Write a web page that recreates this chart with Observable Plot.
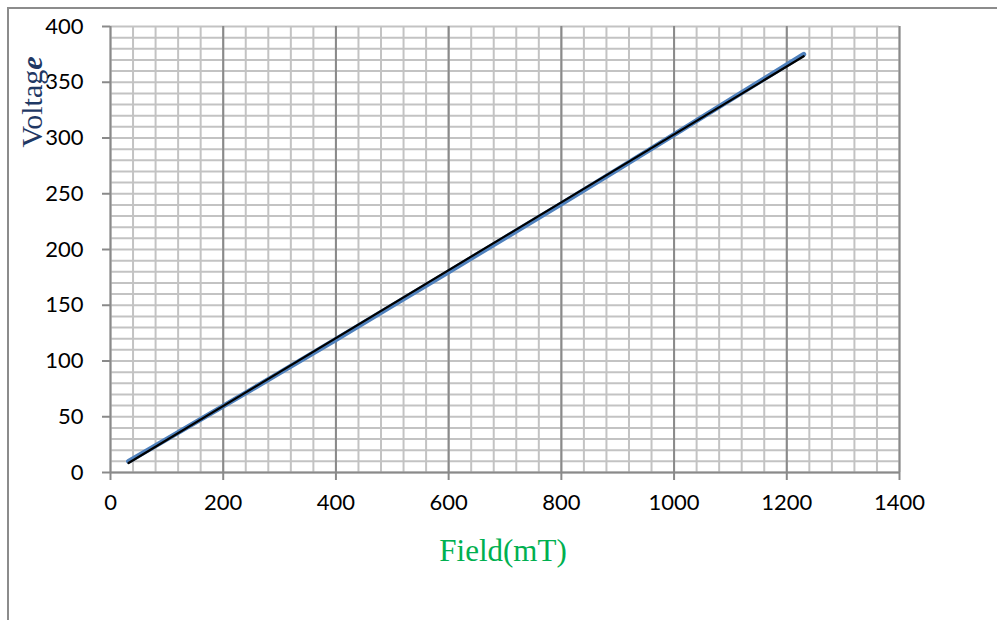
<!DOCTYPE html>
<html>
<head>
<meta charset="utf-8">
<script src="https://cdn.jsdelivr.net/npm/d3@7"></script>
<script src="https://cdn.jsdelivr.net/npm/@observablehq/plot@0.6"></script>
<style>
  body { margin: 0; background: #fff; }
  #chart { position: relative; width: 997px; height: 620px; overflow: hidden; }
  #frame { position: absolute; left: 7px; top: 7px; width: 1200px; height: 800px;
           border-top: 2px solid #8c8c8c; border-left: 2px solid #8c8c8c; pointer-events: none; }
  svg { display: block; }
</style>
</head>
<body>
<div id="chart"><div id="frame"></div></div>
<script>
// Measured voltage against magnetic field
const fieldMT = [32, 100, 200, 300, 400, 500, 600, 700, 800, 900, 1000, 1100, 1230];
const voltage = [10, 30, 59.5, 89.3, 119.3, 149.6, 180, 210.5, 241, 271.8, 303, 334.5, 375];

// Straight-line fit through the measurements
const fitField = [32, 1230];
const fitVoltage = [8.5, 373.3];

// Axis ticks and grid
const xTicks = [0, 200, 400, 600, 800, 1000, 1200, 1400];
const yTicks = [0, 50, 100, 150, 200, 250, 300, 350, 400];
const xMinor = d3.range(0, 1401, 40);
const yMinor = d3.range(0, 401, 10);

const measured = fieldMT.map((f, i) => ({field: f, volt: voltage[i]}));
const fit = fitField.map((f, i) => ({field: f, volt: fitVoltage[i]}));

const gridLight = "#c3c3c3";
const gridDark = "#8a8a8a";

const plot = Plot.plot({
  width: 997,
  height: 620,
  marginLeft: 110,
  marginRight: 98,
  marginTop: 26,
  marginBottom: 148,
  x: {domain: [0, 1400]},
  y: {domain: [0, 400]},
  style: {fontFamily: "Lato, 'Open Sans', sans-serif", fontSize: "22px", color: "#000", background: "transparent"},
  marks: [
    Plot.ruleX(xMinor, {stroke: gridLight, strokeWidth: 2}),
    Plot.ruleY(yMinor, {stroke: gridLight, strokeWidth: 2}),
    Plot.ruleX(xTicks, {stroke: gridDark, strokeWidth: 2}),
    Plot.ruleY([0], {stroke: gridDark, strokeWidth: 2}),
    Plot.axisX({ticks: xTicks, tickFormat: d => String(d), tickSize: 8, tickPadding: 14, stroke: gridDark, strokeWidth: 2, fill: "#000", fontSize: 22, label: null}),
    Plot.axisY({ticks: yTicks, tickFormat: d => String(d), tickSize: 8, tickPadding: 19, stroke: gridDark, strokeWidth: 2, fill: "#000", fontSize: 22, label: null}),
    Plot.line(measured, {x: "field", y: "volt", stroke: "#4f81bd", strokeWidth: 5, strokeLinecap: "round", strokeLinejoin: "round"}),
    Plot.line(fit, {x: "field", y: "volt", stroke: "#000", strokeWidth: 2.2, strokeLinecap: "round"})
  ]
});

document.getElementById("chart").appendChild(plot);

// Axis titles
const svg = d3.select(plot);
svg.append("text")
  .attr("x", 503)
  .attr("y", 561)
  .attr("text-anchor", "middle")
  .attr("font-family", "'Liberation Serif', 'Times New Roman', serif")
  .attr("font-size", 31)
  .attr("fill", "#00b050")
  .text("Field(mT)");

const yTitle = svg.append("text")
  .attr("transform", "translate(42,102) rotate(-90)")
  .attr("text-anchor", "middle")
  .attr("font-family", "'Liberation Serif', 'Times New Roman', serif")
  .attr("font-size", 30)
  .attr("fill", "#1f3864");
yTitle.append("tspan").text("Voltag");
yTitle.append("tspan").attr("font-style", "italic").attr("font-weight", "bold").text("e");
</script>
</body>
</html>
